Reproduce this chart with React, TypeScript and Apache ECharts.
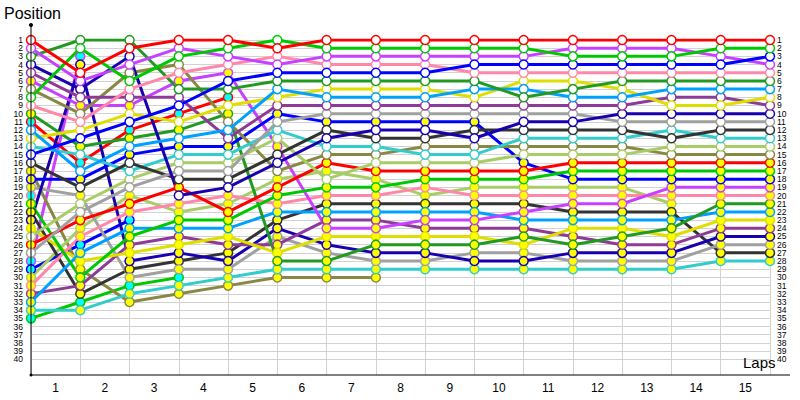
import React, { useEffect, useRef } from "react";
import * as echarts from "echarts";

// Standings (driver codes in order P1, P2, ...) at the start (lap 0) and after each lap
const lap0 = ["R","M","DG","DB","PU","MY","O","G","P","DGY","RC","A","Y","C","B","K","OY","BY","GRY","PC","GY","KY","DBY","YY","LG","RY","GR","MC","BC","LGY","PY","PUY","AY","CY","GC"];
const lap1 = ["DG","G","MC","DBY","R","M","DB","PU","MY","O","P","Y","B","DGY","C","RC","A","BY","K","GRY","LG","GR","RY","LGY","PY","BC","AY","YY","OY","GY","PUY","KY","GC","CY"];
const lap2 = ["DG","R","DB","M","O","G","P","PU","MY","Y","B","RC","DGY","A","BY","K","C","LG","GR","LGY","RY","PY","BC","AY","GY","PUY","YY","DBY","KY","GRY","GC","CY","OY"];
const lap3 = ["R","M","G","O","P","MY","DG","PU","B","RC","Y","DGY","A","BY","C","LG","GR","K","RY","DB","PY","LGY","GY","AY","PUY","YY","DBY","KY","GRY","GC","CY","OY"];
const lap4 = ["R","G","M","P","MY","B","DG","RC","Y","DGY","O","A","PU","BY","C","LG","GR","K","DB","PY","LGY","RY","GY","AY","YY","PUY","KY","DBY","GRY","CY","OY"];
const lap5 = ["G","R","P","M","B","DG","A","Y","PU","BY","GR","C","LG","MY","K","DB","O","LGY","RY","GY","PY","AY","KY","DBY","GRY","PUY","YY","DGY","CY","OY"];
const lap6 = ["R","G","M","P","B","DG","Y","A","PU","GR","BY","K","DB","C","O","RY","LGY","LG","GY","PY","KY","AY","PUY","MY","YY","DBY","GRY","DGY","CY","OY"];
const lap7 = ["R","G","M","P","B","DG","Y","A","PU","GR","BY","DB","K","C","O","LG","RY","LGY","GY","PY","KY","AY","PUY","MY","YY","DGY","DBY","GRY","CY","OY"];
const lap8 = ["R","G","M","P","B","DG","Y","A","PU","GR","BY","DB","K","O","C","LG","RY","GY","PY","LGY","KY","AY","MY","PUY","YY","DGY","DBY","GRY","CY"];
const lap9 = ["R","G","M","B","P","DG","A","Y","PU","GR","BY","K","DB","O","C","LG","RY","GY","LGY","PY","KY","AY","MY","PUY","YY","DGY","GRY","DBY","CY"];
const lap10 = ["R","G","M","B","P","Y","A","DG","PU","GR","DB","K","C","O","LG","BY","RY","GY","LGY","PY","KY","MY","AY","PUY","DGY","YY","GRY","DBY","CY"];
const lap11 = ["R","M","G","B","P","Y","DG","A","PU","GR","DB","K","C","O","LG","RY","GY","BY","LGY","PY","MY","KY","AY","YY","PUY","DGY","DBY","GRY","CY"];
const lap12 = ["R","M","G","B","P","DG","Y","A","PU","DB","GR","K","C","O","LG","RY","GY","BY","LGY","PY","MY","KY","AY","YY","DGY","PUY","DBY","GRY","CY"];
const lap13 = ["R","M","G","B","P","DG","A","PU","Y","DB","GR","C","K","LG","O","RY","GY","BY","MY","PY","LGY","KY","AY","DGY","YY","PUY","DBY","GRY","CY"];
const lap14 = ["R","G","M","B","P","DG","A","PU","Y","DB","GR","K","C","LG","O","RY","GY","BY","MY","PY","DGY","AY","YY","PUY","DBY","GRY","KY","CY"];
const lap15 = ["R","G","B","M","P","DG","A","Y","PU","DB","GR","K","C","LG","O","RY","GY","BY","MY","PY","DGY","AY","YY","PUY","DBY","GRY","KY","CY"];

const LAP_LABELS = ["1","2","3","4","5","6","7","8","9","10","11","12","13","14","15"];
const POSITION_LABELS = Array.from({ length: 40 }, (_, i) => String(i + 1));

const LINE_COLORS: Record<string, string> = {
  R: "#ff0000", G: "#00c800", B: "#0000ff", M: "#c840ff", P: "#ff88aa",
  DG: "#229a22", A: "#00a0ff", Y: "#dede00", PU: "#8e3a98", DB: "#1800b0",
  GR: "#a0a0a0", K: "#333333", C: "#33cccc", LG: "#a8cc66", O: "#888844",
};
const FILLS: Record<string, string> = { W: "#ffffff", Y: "#ffff00", C: "#00ffff" };

const FONT = "Liberation Sans";

function parseDriver(id: string) {
  if (id.length > 1) {
    const last = id[id.length - 1];
    const base = id.slice(0, -1);
    if ((last === "Y" || last === "C") && LINE_COLORS[base]) {
      return { color: LINE_COLORS[base], fill: FILLS[last] };
    }
  }
  return { color: LINE_COLORS[id], fill: FILLS.W };
}

export default function App() {
  const ref = useRef<HTMLDivElement>(null);
  useEffect(() => {
    if (!ref.current) return;
    const chart = echarts.init(ref.current, undefined, { renderer: "svg" });
    const standings = [lap0, lap1, lap2, lap3, lap4, lap5, lap6, lap7, lap8, lap9, lap10, lap11, lap12, lap13, lap14, lap15];
    const ids: string[] = [];
    for (let l = standings.length - 1; l >= 0; l--) {
      for (const id of standings[l]) if (!ids.includes(id)) ids.push(id);
    }
    const series = ids.slice().reverse().map((id) => {
      const { color, fill } = parseDriver(id);
      const data: (number | string)[][] = [];
      standings.forEach((order, lap) => {
        const i = order.indexOf(id);
        if (i >= 0) data.push([lap, String(i + 1)]);
      });
      return {
        type: "line",
        name: id,
        xAxisIndex: 0,
        yAxisIndex: 0,
        data,
        clip: false,
        symbol: "circle",
        symbolSize: 9,
        showAllSymbol: true,
        lineStyle: { color, width: 3 },
        itemStyle: { color: fill, borderColor: color, borderWidth: 1.5 },
        emphasis: { disabled: true },
      };
    });

    const yLabel = {
      color: "#000", fontSize: 8.5, lineHeight: 8, fontFamily: FONT, interval: 0,
    };

    const option = {
      animation: false,
      backgroundColor: "#ffffff",
      grid: [
        { left: 31, right: 30, top: 40, height: 319.3 },
        { left: 31, right: 30, top: 40, bottom: 25 },
      ],
      xAxis: [
        { gridIndex: 0, type: "value", min: 0, max: 15, show: false },
        {
          gridIndex: 1, type: "value", min: 0, max: 15, interval: 1,
          axisLine: { show: false }, axisTick: { show: false }, axisLabel: { show: false },
          splitLine: { show: true, lineStyle: { color: "#d2d2d2", width: 1 } },
        },
        {
          gridIndex: 1, type: "category", data: LAP_LABELS, boundaryGap: true, position: "bottom",
          axisLine: { show: false }, axisTick: { show: false }, splitLine: { show: false },
          axisLabel: { color: "#000", fontSize: 12, fontFamily: FONT, margin: 7, interval: 0 },
        },
      ],
      yAxis: [
        {
          gridIndex: 0, type: "category", data: POSITION_LABELS, inverse: true, boundaryGap: false,
          axisLine: { show: false }, axisTick: { show: false },
          axisLabel: { ...yLabel, margin: 8 },
          splitLine: { show: true, interval: 0, lineStyle: { color: "#d2d2d2", width: 1 } },
        },
        {
          gridIndex: 0, type: "category", data: POSITION_LABELS, inverse: true, boundaryGap: false,
          position: "right",
          axisLine: { show: false }, axisTick: { show: false },
          axisLabel: { ...yLabel, margin: 7 },
          splitLine: { show: false },
        },
        { gridIndex: 1, type: "value", show: false, min: 0, max: 1 },
      ],
      graphic: [
        { type: "line", shape: { x1: 31, y1: 25, x2: 31, y2: 375 }, style: { stroke: "#000", lineWidth: 1 }, z: 100 },
        { type: "line", shape: { x1: 31, y1: 375, x2: 790, y2: 375 }, style: { stroke: "#000", lineWidth: 1 }, z: 100 },
        { type: "circle", shape: { cx: 31, cy: 25, r: 2 }, style: { fill: "#000" }, z: 100 },
        { type: "circle", shape: { cx: 31, cy: 375, r: 1.5 }, style: { fill: "#000" }, z: 100 },
        { type: "text", x: 4, y: 5, style: { text: "Position", font: `16px '${FONT}'`, fill: "#000" }, z: 100 },
        { type: "text", x: 743, y: 355, style: { text: "Laps", font: `15px '${FONT}'`, fill: "#000" }, z: 100 },
      ],
      series,
    };
    chart.setOption(option as any);
    return () => chart.dispose();
  }, []);
  return (
    <div
      ref={ref}
      style={{ position: "fixed", left: 0, top: 0, width: 800, height: 400, background: "#fff" }}
    />
  );
}
